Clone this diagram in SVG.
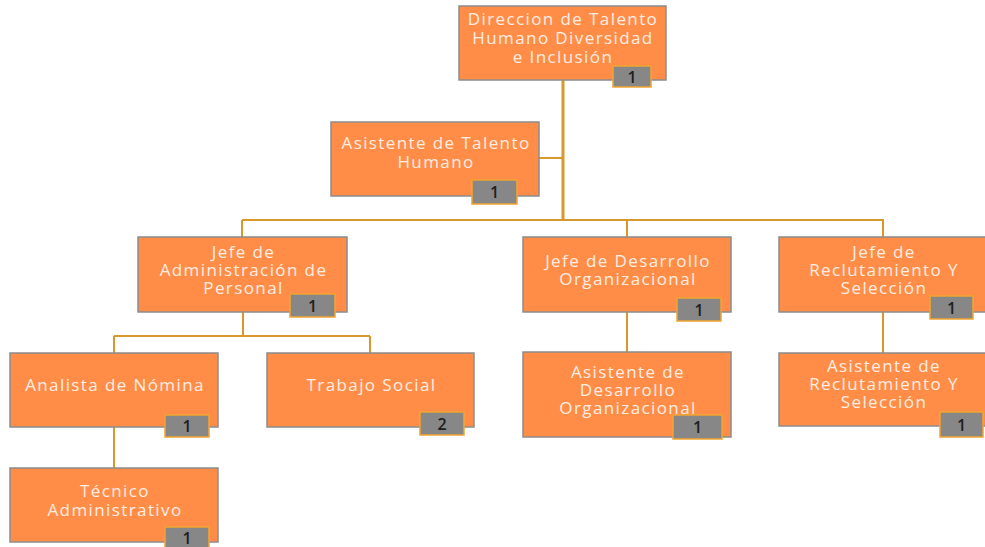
<svg xmlns="http://www.w3.org/2000/svg" width="985" height="547" viewBox="0 0 985 547">
<style>
.box{fill:#FF8D48;stroke:#8C8C8C;stroke-width:1.5}
.bd{fill:#878787;stroke:#F2A531;stroke-width:1.5}
.t{font-family:"Open Sans","Noto Sans",sans-serif;font-size:17px;fill:#FFEDE3;text-anchor:middle;letter-spacing:1.4px}
.n{font-family:"Open Sans","Noto Sans",sans-serif;font-size:16px;font-weight:600;fill:#1E1E1E;text-anchor:middle}
.c{fill:none;stroke:#D9982E;stroke-width:2}
</style>
<rect width="985" height="547" fill="#FFFFFF"/>
<g id="connectors">
<path class="c" d="M563 80V220" style="stroke-width:3"/>
<path class="c" d="M539 158H563"/>
<path class="c" d="M242 220H884"/>
<path class="c" d="M242 220V237M627 220V237M883 220V237"/>
<path class="c" d="M243 312V336M114 336H370M114 336V353M370 336V353"/>
<path class="c" d="M114 427V468"/>
<path class="c" d="M627 312V352"/>
<path class="c" d="M883 312V353"/>
</g>
<g id="n-direccion">
<rect class="box" x="459" y="6" width="207" height="74"/>
<text class="t" x="563" y="25">Direccion de Talento</text>
<text class="t" x="563" y="44">Humano Diversidad</text>
<text class="t" x="563" y="63">e Inclusión</text>
<rect class="bd" x="613" y="66" width="38" height="21"/>
<text class="n" x="632" y="83">1</text>
</g>
<g id="n-asistente-th">
<rect class="box" x="331" y="122" width="208" height="74"/>
<text class="t" x="436" y="149">Asistente de Talento</text>
<text class="t" x="436" y="168">Humano</text>
<rect class="bd" x="472" y="180" width="45" height="24"/>
<text class="n" x="494.5" y="198">1</text>
</g>
<g id="n-jefe-admin">
<rect class="box" x="138" y="237" width="209" height="75"/>
<text class="t" x="243.5" y="258">Jefe de</text>
<text class="t" x="243.5" y="276">Administración de</text>
<text class="t" x="243.5" y="294">Personal</text>
<rect class="bd" x="290" y="294" width="45" height="23"/>
<text class="n" x="312.5" y="312">1</text>
</g>
<g id="n-jefe-des">
<rect class="box" x="523" y="237" width="208" height="75"/>
<text class="t" x="628" y="267">Jefe de Desarrollo</text>
<text class="t" x="628" y="285">Organizacional</text>
<rect class="bd" x="677" y="298" width="44" height="23"/>
<text class="n" x="699" y="316">1</text>
</g>
<g id="n-jefe-recl">
<rect class="box" x="779" y="237" width="210" height="75"/>
<text class="t" x="884" y="258">Jefe de</text>
<text class="t" x="884" y="276">Reclutamiento Y</text>
<text class="t" x="884" y="294">Selección</text>
<rect class="bd" x="930" y="296" width="43" height="23"/>
<text class="n" x="951.5" y="314">1</text>
</g>
<g id="n-analista">
<rect class="box" x="10" y="353" width="208" height="74"/>
<text class="t" x="115" y="391">Analista de Nómina</text>
<rect class="bd" x="165" y="415" width="44" height="22"/>
<text class="n" x="187" y="432">1</text>
</g>
<g id="n-trabajo">
<rect class="box" x="267" y="353" width="207" height="74"/>
<text class="t" x="371.5" y="391">Trabajo Social</text>
<rect class="bd" x="420" y="412" width="44" height="23"/>
<text class="n" x="442" y="430">2</text>
</g>
<g id="n-asist-des">
<rect class="box" x="523" y="352" width="208" height="85"/>
<text class="t" x="628" y="378">Asistente de</text>
<text class="t" x="628" y="396">Desarrollo</text>
<text class="t" x="628" y="414">Organizacional</text>
<rect class="bd" x="673" y="415" width="49" height="24"/>
<text class="n" x="697.5" y="433">1</text>
</g>
<g id="n-asist-recl">
<rect class="box" x="779" y="353" width="210" height="73"/>
<text class="t" x="884" y="372">Asistente de</text>
<text class="t" x="884" y="390">Reclutamiento Y</text>
<text class="t" x="884" y="408">Selección</text>
<rect class="bd" x="940" y="412" width="43" height="25"/>
<text class="n" x="961.5" y="431">1</text>
</g>
<g id="n-tecnico">
<rect class="box" x="10" y="468" width="208" height="74"/>
<text class="t" x="115" y="497">Técnico</text>
<text class="t" x="115" y="516">Administrativo</text>
<rect class="bd" x="165" y="527" width="44" height="24"/>
<text class="n" x="187" y="544">1</text>
</g>
</svg>
